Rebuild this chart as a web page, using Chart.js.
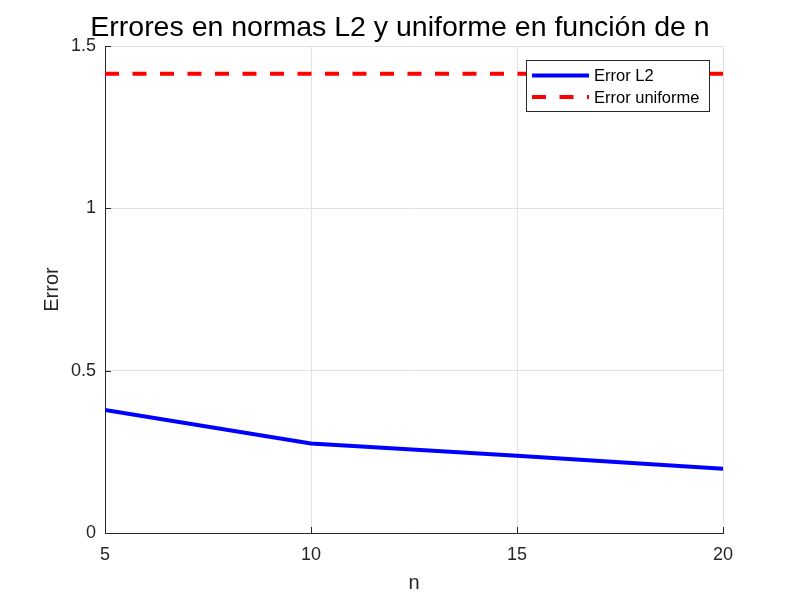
<!DOCTYPE html>
<html>
<head>
<meta charset="utf-8">
<script src="https://cdn.jsdelivr.net/npm/chart.js@4.4.1/dist/chart.umd.min.js"></script>
<style>
html,body{margin:0;padding:0;background:#fff;}
#wrap{width:800px;height:600px;}
</style>
</head>
<body>
<div id="wrap"><canvas id="c" width="800" height="600"></canvas></div>
<script>
const nValues = [5, 10, 15, 20];
const errorL2 = [0.379, 0.276, 0.238, 0.198];
const errorUniforme = [1.4142, 1.4142, 1.4142, 1.4142];
const xTicks = [5, 10, 15, 20];
const yTicks = [0, 0.5, 1, 1.5];
const seriesLabels = ['Error L2', 'Error uniforme'];
const titleText = 'Errores en normas L2 y uniforme en función de n';
const xTitle = 'n';
const yTitle = 'Error';

const FONT = '"Liberation Sans", Arial, Helvetica, sans-serif';
const AXIS = '#262626';

const inwardTicks = {
  id: 'inwardTicks',
  afterDraw(chart) {
    const {ctx, chartArea: a, scales: {x, y}} = chart;
    ctx.save();
    ctx.strokeStyle = AXIS;
    ctx.lineWidth = 1;
    ctx.beginPath();
    xTicks.forEach(v => {
      const px = Math.round(x.getPixelForValue(v)) + 0.5;
      ctx.moveTo(px, a.bottom);
      ctx.lineTo(px, a.bottom - 6);
    });
    yTicks.forEach(v => {
      const py = Math.round(y.getPixelForValue(v)) + 0.5;
      ctx.moveTo(a.left, py);
      ctx.lineTo(a.left + 6, py);
    });
    ctx.stroke();
    ctx.restore();
  }
};

const boxLegend = {
  id: 'boxLegend',
  afterDraw(chart) {
    const {ctx} = chart;
    const x0 = 526, y0 = 60, w = 183, h = 51;
    ctx.save();
    ctx.fillStyle = '#fff';
    ctx.fillRect(x0, y0, w, h);
    ctx.strokeStyle = AXIS;
    ctx.lineWidth = 1;
    ctx.strokeRect(x0 + 0.5, y0 + 0.5, w, h);
    ctx.font = '16.5px ' + FONT;
    ctx.textBaseline = 'middle';
    ctx.fillStyle = '#000';
    chart.data.datasets.forEach((ds, i) => {
      const cy = y0 + 15.5 + i * 21.5;
      ctx.strokeStyle = ds.borderColor;
      ctx.lineWidth = ds.borderWidth;
      ctx.setLineDash(ds.borderDash || []);
      ctx.beginPath();
      ctx.moveTo(x0 + 6, cy);
      ctx.lineTo(x0 + 63, cy);
      ctx.stroke();
      ctx.setLineDash([]);
      ctx.fillText(ds.label, x0 + 68, cy + 1);
    });
    ctx.restore();
  }
};

new Chart(document.getElementById('c'), {
  type: 'line',
  data: {
    datasets: [
      {
        label: seriesLabels[0],
        data: nValues.map((n, i) => ({x: n, y: errorL2[i]})),
        borderColor: '#0000ff',
        borderWidth: 4,
        pointRadius: 0,
        tension: 0,
        fill: false
      },
      {
        label: seriesLabels[1],
        data: nValues.map((n, i) => ({x: n, y: errorUniforme[i]})),
        borderColor: '#ff0000',
        borderWidth: 4,
        borderDash: [14, 13.5],
        pointRadius: 0,
        tension: 0,
        fill: false
      }
    ]
  },
  options: {
    responsive: false,
    animation: false,
    devicePixelRatio: 1,
    layout: {padding: {left: 0, right: 0, top: 0, bottom: 0}},
    plugins: {
      legend: {display: false},
      tooltip: {enabled: false},
      title: {
        display: true,
        text: titleText,
        color: '#000',
        font: {family: FONT, size: 28.5, weight: 'normal', lineHeight: 1.2},
        padding: {top: 11.5, bottom: 0.3}
      }
    },
    scales: {
      x: {
        type: 'linear',
        min: 5, max: 20,
        afterBuildTicks(scale) { scale.ticks = xTicks.map(v => ({value: v})); },
        afterFit(scale) { scale.height = 67; },
        ticks: {
          color: '#262626',
          font: {family: FONT, size: 18},
          padding: 11,
          maxRotation: 0
        },
        grid: {color: '#e1e1e1', lineWidth: 1, drawTicks: false},
        border: {color: AXIS, width: 1},
        title: {
          display: true,
          text: xTitle,
          color: '#262626',
          font: {family: FONT, size: 20, lineHeight: 1.2},
          padding: {top: 0, bottom: 5}
        }
      },
      y: {
        type: 'linear',
        min: 0, max: 1.5,
        afterBuildTicks(scale) { scale.ticks = yTicks.map(v => ({value: v})); },
        afterFit(scale) { scale.width = 105; },
        ticks: {
          color: '#262626',
          font: {family: FONT, size: 18},
          padding: 9,
          callback: v => String(v)
        },
        grid: {color: '#e1e1e1', lineWidth: 1, drawTicks: false},
        border: {color: AXIS, width: 1},
        title: {
          display: true,
          text: yTitle,
          color: '#262626',
          font: {family: FONT, size: 20, lineHeight: 1.2},
          padding: {top: 40.5, bottom: 0}
        }
      },
      yRight: {
        type: 'linear',
        position: 'right',
        min: 0, max: 1.5,
        display: true,
        afterFit(scale) { scale.width = 77; },
        ticks: {display: false},
        grid: {display: false, drawOnChartArea: false, drawTicks: false},
        border: {display: false}
      }
    }
  },
  plugins: [inwardTicks, boxLegend]
});
</script>
</body>
</html>
